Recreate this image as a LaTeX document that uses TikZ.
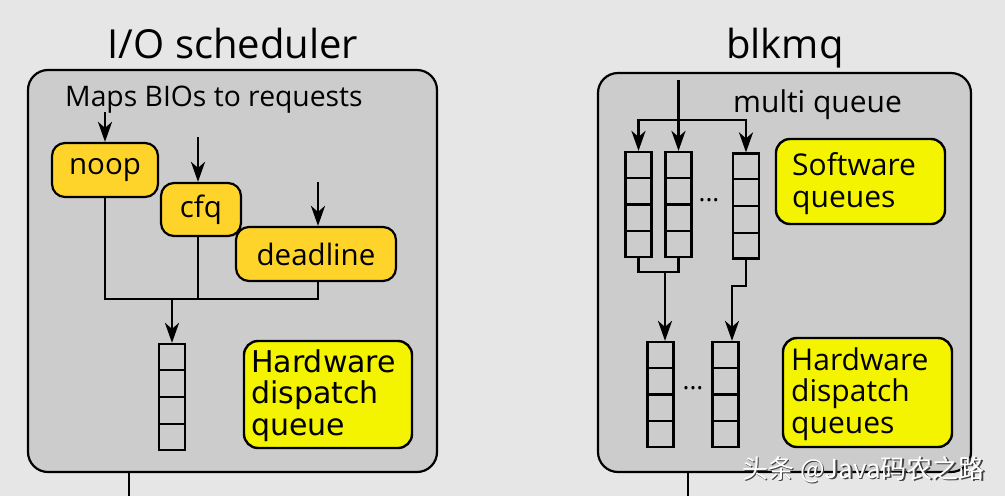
\documentclass[tikz,border=0pt]{standalone}
\usepackage{fontspec}
\setmainfont{Open Sans}
\newfontfamily\dvs{DejaVu Sans}
\newfontfamily\cjk{Noto Sans CJK SC}
\usetikzlibrary{arrows.meta,calc}
\definecolor{bgc}{HTML}{E6E6E6}
\definecolor{boxc}{HTML}{CCCCCC}
\definecolor{goldc}{HTML}{FFD42A}
\definecolor{yelc}{HTML}{F4F400}
\begin{document}
\begin{tikzpicture}[x=1pt,y=-1pt,
  bigbox/.style={draw,line width=2.2pt,fill=boxc,rounded corners=20pt,inner sep=0pt},
  sched/.style={draw,line width=2.2pt,fill=goldc,rounded corners=13pt,inner sep=0pt,font=\fontsize{29.5}{29.5}\selectfont},
  label/.style={draw,line width=2.4pt,fill=yelc,rounded corners=14pt,inner sep=0pt},
  labtext/.style={anchor=base west,inner sep=0pt,align=left},
  qbox/.style={draw,line width=2.2pt,minimum width=26pt,minimum height=106pt,inner sep=0pt},
  conn/.style={line width=2.8pt},
  arr/.style={line width=2.8pt,-{Stealth[length=20pt,width=14pt,inset=6pt]}},
  title/.style={anchor=base,inner sep=0pt,font=\fontsize{40}{40}\selectfont},
  txt/.style={anchor=base west,inner sep=0pt}]
\useasboundingbox[fill=bgc] (0,0) rectangle (1005,496);

% ---------- left: I/O scheduler ----------
\node[title] (t1) at (233,58) {I/O scheduler};
\node[bigbox,minimum width=409pt,minimum height=402pt] (L) at (232.5,271) {};
\coordinate (Lout) at (129,496);
\draw[conn] (Lout |- L.south) -- (Lout);
\node[txt,font=\fontsize{28.3}{28.3}\selectfont] (maps) at (65,106) {Maps BIOs to requests};

\node[sched,minimum width=106pt,minimum height=54pt] (noop) at (105,170) {noop};
\node[sched,minimum width=80pt,minimum height=53pt] (cfq) at (201,209.5) {cfq};
\node[sched,minimum width=160pt,minimum height=54pt] (deadline) at (316,254) {deadline};

\coordinate (nin) at (105,112);
\coordinate (cin) at (198,137);
\coordinate (din) at (318,182);
\draw[arr] (nin) -- (nin |- noop.north);
\draw[arr] (cin) -- (cin |- cfq.north);
\draw[arr] (din) -- (din |- deadline.north);

\coordinate (m) at (172,299);
\node[qbox] (hq) at (172,397) {};
\draw[conn] (noop.south) -- (noop.south |- m) -- (din |- m) -- (din |- deadline.south);
\draw[conn] (cin |- cfq.south) -- (cin |- m);
\draw[arr] (m) -- (hq.north);

\node[label,minimum width=168pt,minimum height=107pt] (hwl) at (328,394.5) {};
\node[labtext,font=\dvs\fontsize{30}{31.5}\selectfont] (hwlt) at (251,435) {Hardware\\dispatch\\queue};

% ---------- right: blkmq ----------
\node[title] (t2) at (785,58) {blkmq};
\node[bigbox,minimum width=373pt,minimum height=399pt] (R) at (784.5,272.5) {};
\coordinate (Rout) at (688,496);
\draw[conn] (Rout |- R.south) -- (Rout);
\node[txt,font=\fontsize{30}{30}\selectfont] (mq) at (733,112) {multi queue};

\node[qbox,minimum height=105pt] (sq1) at (638.5,204.5) {};
\node[qbox,minimum height=105pt] (sq2) at (678.5,204.5) {};
\node[qbox,minimum height=105pt] (sq3) at (746,206) {};
\node[inner sep=0pt,font=\fontsize{26}{26}\selectfont] (d1) at (709,200) {...};

\coordinate (in) at (678.5,80);
\coordinate (br) at (678.5,120);
\draw[arr] (in) -- (sq2.north);
\draw[arr] (br) -| (sq1.north);
\draw[arr] (br) -| (sq3.north);

\node[label,minimum width=169pt,minimum height=85pt] (swl) at (860.5,181.5) {};
\node[labtext,font=\fontsize{30}{32}\selectfont] (swlt) at (792,207) {Software\\queues};

\node[qbox,minimum height=105pt] (hq1) at (660.5,394.5) {};
\node[qbox,minimum height=105pt] (hq2) at (725.5,394.5) {};
\node[inner sep=0pt,font=\fontsize{26}{26}\selectfont] (d2) at (693,388) {...};

\coordinate (m2) at (665,272);
\draw[conn] (sq1.south) -- (sq1.south |- m2) -- (sq2.south |- m2) -- (sq2.south);
\draw[arr] (m2) -- (m2 |- hq1.north);
\coordinate (j3) at (732,286);
\draw[arr] (sq3.south) |- (j3) -- (j3 |- hq2.north);

\node[label,minimum width=169pt,minimum height=109pt] (hwr) at (867.5,392.5) {};
\node[labtext,font=\fontsize{30}{31.5}\selectfont] (hwrt) at (791,433) {Hardware\\dispatch\\queues};

% queue cell dividers
\foreach \q in {hq,sq1,sq2,sq3,hq1,hq2}
  \foreach \f in {0.25,0.5,0.75}
    \draw[line width=2.2pt] ($(\q.north west)!\f!(\q.south west)$) -- ($(\q.north east)!\f!(\q.south east)$);

% watermark
\node[txt,font=\cjk\fontsize{26}{26}\selectfont,text=black!75] (wm0) at (743.5,479.5) {头条 @Java码农之路};
\node[txt,font=\cjk\fontsize{26}{26}\selectfont,text=white] (wm) at (742,478) {头条 @Java码农之路};
\end{tikzpicture}
\end{document}
